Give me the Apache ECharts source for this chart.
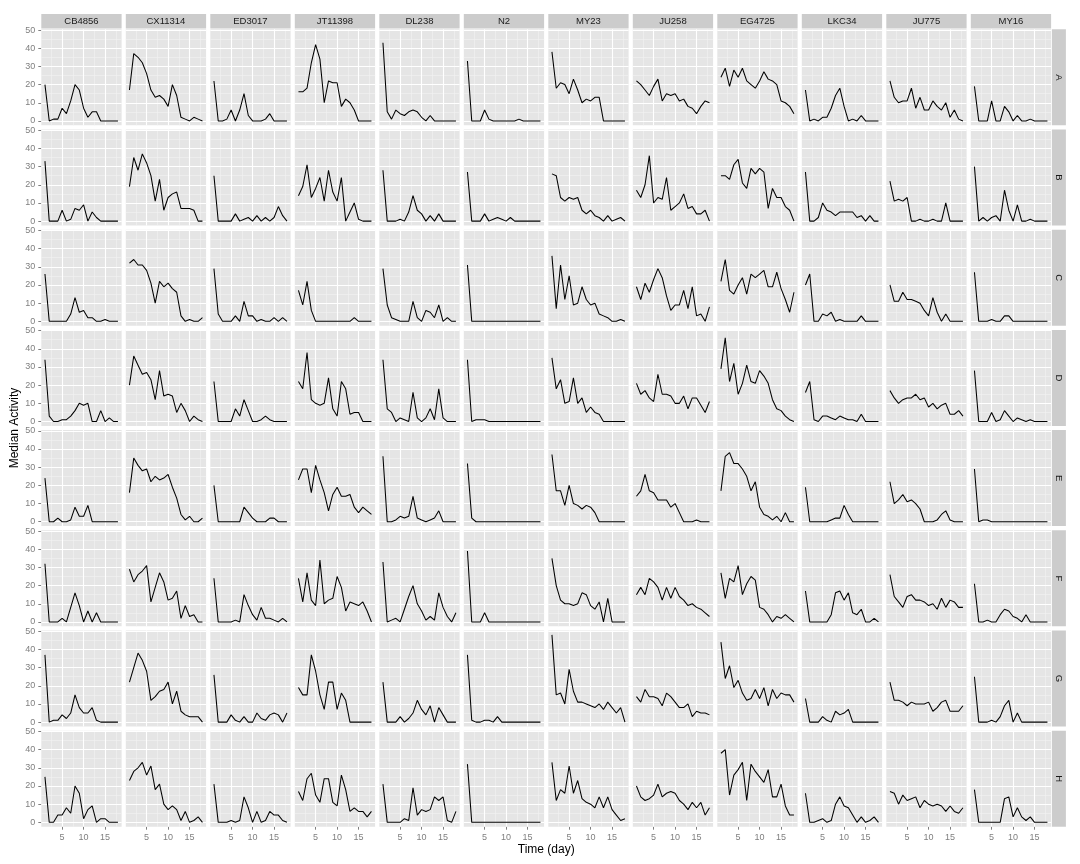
<!DOCTYPE html>
<html>
<head>
<meta charset="utf-8">
<title>Median Activity</title>
<script src="https://cdn.jsdelivr.net/npm/echarts@6.0.0/dist/echarts.min.js"></script>
<style>
  html, body { margin: 0; padding: 0; background: #fff; }
  #chart { width: 1080px; height: 864px; }
</style>
</head>
<body>
<div id="chart"></div>
<script>
// facets
const strains = ['CB4856', 'CX11314', 'ED3017', 'JT11398', 'DL238', 'N2', 'MY23', 'JU258', 'EG4725', 'LKC34', 'JU775', 'MY16']
const groups = ['A', 'B', 'C', 'D', 'E', 'F', 'G', 'H']
const days = [1, 2, 3, 4, 5, 6, 7, 8, 9, 10, 11, 12, 13, 14, 15, 16, 17, 18]

// breaks
const xBreaks = [5, 10, 15]
const xMinor = [2.5, 7.5, 12.5, 17.5]
const yBreaks = [0, 10, 20, 30, 40, 50]
const yMinor = [5, 15, 25, 35, 45]

// median activity per strain, one row per group A..H
const cb4856 = [
  [20, 0, 1, 1, 7, 4, 11, 20, 17, 7, 2, 5, 5, 0, 0, 0, 0, 0],
  [33, 0, 0, 0, 6, 0, 1, 7, 6, 9, 0, 5, 2, 0, 0, 0, 0, 0],
  [26, 0, 0, 0, 0, 0, 4, 13, 5, 6, 2, 2, 0, 0, 1, 0, 0, 0],
  [34, 3, 0, 0, 1, 1, 3, 6, 10, 9, 10, 0, 0, 6, 0, 2, 0, 0],
  [24, 0, 0, 2, 0, 0, 1, 8, 3, 3, 9, 0, 0, 0, 0, 0, 0, 0],
  [32, 0, 0, 0, 2, 0, 8, 16, 9, 0, 6, 0, 5, 0, 0, 0, 0, 0],
  [37, 0, 1, 1, 4, 2, 5, 15, 8, 5, 5, 8, 1, 0, 0, 0, 0, 0],
  [25, 0, 0, 4, 4, 8, 5, 20, 16, 2, 7, 9, 0, 2, 2, 0, 0, 0]
]
const cx11314 = [
  [17, 37, 35, 32, 26, 17, 13, 14, 12, 8, 20, 14, 2, 1, 0, 2, 1, 0],
  [19, 35, 28, 37, 32, 25, 11, 23, 6, 13, 15, 16, 7, 7, 7, 6, 0, 0],
  [32, 34, 31, 31, 28, 21, 10, 22, 19, 21, 18, 16, 3, 0, 1, 0, 0, 2],
  [20, 36, 31, 26, 27, 23, 12, 28, 14, 15, 14, 5, 10, 6, 0, 3, 1, 0],
  [16, 35, 31, 28, 29, 22, 25, 23, 24, 26, 19, 13, 4, 1, 3, 0, 0, 2],
  [29, 22, 26, 28, 31, 11, 19, 27, 22, 12, 13, 17, 2, 9, 3, 4, 0, 0],
  [22, 30, 38, 34, 28, 12, 14, 17, 18, 22, 10, 17, 6, 4, 3, 3, 3, 0],
  [23, 28, 30, 33, 26, 31, 18, 21, 10, 7, 9, 7, 1, 6, 0, 1, 3, 0]
]
const ed3017 = [
  [22, 0, 0, 1, 6, 0, 6, 15, 3, 0, 0, 0, 1, 4, 0, 0, 0, 0],
  [25, 0, 0, 0, 0, 4, 0, 1, 2, 0, 3, 0, 2, 0, 2, 8, 3, 0],
  [29, 4, 0, 0, 0, 3, 0, 11, 3, 3, 0, 1, 0, 0, 2, 0, 2, 0],
  [22, 0, 0, 0, 0, 7, 3, 12, 6, 0, 0, 1, 3, 1, 0, 0, 0, 0],
  [20, 0, 0, 0, 0, 0, 0, 8, 5, 2, 0, 0, 0, 2, 2, 0, 0, 0],
  [24, 0, 0, 0, 0, 1, 0, 15, 9, 4, 1, 8, 2, 2, 1, 0, 2, 0],
  [26, 0, 0, 0, 4, 1, 0, 3, 0, 0, 5, 2, 1, 4, 5, 4, 0, 5],
  [21, 0, 0, 0, 1, 0, 1, 14, 8, 0, 6, 0, 1, 6, 4, 4, 1, 0]
]
const jt11398 = [
  [16, 16, 18, 32, 42, 34, 10, 22, 21, 21, 8, 12, 10, 6, 0, 0, 0, 0],
  [14, 19, 31, 13, 18, 24, 11, 28, 16, 11, 24, 0, 5, 10, 1, 0, 0, 0],
  [17, 9, 22, 6, 0, 0, 0, 0, 0, 0, 0, 0, 0, 2, 0, 0, 0, 0],
  [22, 18, 38, 12, 10, 9, 10, 24, 7, 3, 22, 18, 4, 5, 5, 0, 0, 0],
  [23, 29, 29, 16, 31, 23, 16, 6, 15, 19, 14, 14, 15, 8, 5, 8, 6, 4],
  [24, 11, 27, 12, 9, 34, 10, 12, 13, 25, 19, 6, 11, 10, 9, 11, 6, 0],
  [19, 15, 15, 37, 28, 15, 7, 22, 22, 7, 16, 12, 0, 0, 0, 0, 0, 0],
  [17, 12, 24, 27, 15, 11, 24, 24, 11, 9, 26, 18, 6, 8, 6, 6, 3, 6]
]
const dl238 = [
  [43, 5, 1, 6, 4, 3, 5, 6, 5, 2, 0, 3, 0, 0, 0, 0, 0, 0],
  [28, 0, 0, 0, 1, 0, 5, 14, 6, 4, 0, 3, 0, 4, 0, 0, 0, 0],
  [29, 9, 2, 1, 0, 0, 0, 11, 2, 0, 6, 5, 2, 9, 0, 2, 0, 0],
  [34, 7, 5, 0, 2, 1, 0, 16, 2, 0, 2, 7, 1, 18, 2, 0, 0, 0],
  [36, 0, 0, 1, 3, 2, 3, 14, 2, 1, 0, 1, 2, 6, 0, 0, 0, 0],
  [33, 0, 1, 2, 0, 7, 14, 20, 10, 6, 1, 3, 1, 16, 8, 3, 0, 5],
  [22, 0, 0, 0, 3, 0, 2, 5, 12, 7, 4, 9, 0, 8, 4, 0, 0, 0],
  [21, 0, 0, 0, 0, 2, 1, 19, 4, 7, 6, 7, 14, 12, 14, 1, 0, 6]
]
const n2 = [
  [33, 0, 0, 0, 6, 1, 0, 0, 0, 0, 0, 0, 1, 0, 0, 0, 0, 0],
  [27, 0, 0, 0, 4, 0, 1, 2, 1, 0, 2, 0, 0, 0, 0, 0, 0, 0],
  [31, 0, 0, 0, 0, 0, 0, 0, 0, 0, 0, 0, 0, 0, 0, 0, 0, 0],
  [34, 0, 1, 1, 1, 0, 0, 0, 0, 0, 0, 0, 0, 0, 0, 0, 0, 0],
  [32, 2, 0, 0, 0, 0, 0, 0, 0, 0, 0, 0, 0, 0, 0, 0, 0, 0],
  [39, 0, 0, 0, 5, 0, 0, 0, 0, 0, 0, 0, 0, 0, 0, 0, 0, 0],
  [37, 1, 0, 0, 1, 1, 0, 3, 0, 0, 0, 0, 0, 0, 0, 0, 0, 0],
  [32, 0, 0, 0, 0, 0, 0, 0, 0, 0, 0, 0, 0, 0, 0, 0, 0, 0]
]
const my23 = [
  [38, 18, 21, 20, 15, 23, 17, 10, 12, 11, 13, 13, 0, 0, 0, 0, 0, 0],
  [26, 25, 13, 11, 13, 12, 13, 6, 4, 6, 3, 2, 0, 3, 0, 1, 2, 0],
  [36, 7, 31, 12, 25, 9, 10, 19, 12, 9, 10, 4, 3, 2, 0, 0, 1, 0],
  [35, 18, 23, 10, 11, 24, 10, 13, 5, 8, 5, 4, 0, 0, 0, 0, 0, 0],
  [37, 17, 17, 9, 20, 10, 9, 7, 9, 8, 5, 0, 0, 0, 0, 0, 0, 0],
  [35, 20, 12, 10, 10, 9, 10, 16, 15, 9, 7, 11, 0, 13, 0, 0, 0, 0],
  [48, 15, 16, 10, 29, 17, 11, 11, 10, 9, 8, 10, 7, 11, 8, 5, 8, 0],
  [33, 12, 18, 16, 31, 16, 23, 13, 11, 10, 8, 14, 8, 14, 7, 4, 1, 2]
]
const ju258 = [
  [22, 20, 17, 14, 19, 23, 11, 15, 14, 15, 11, 12, 8, 7, 4, 8, 11, 10],
  [17, 13, 20, 36, 10, 13, 12, 24, 6, 8, 10, 15, 7, 8, 4, 4, 6, 0],
  [19, 12, 21, 16, 23, 29, 24, 14, 6, 9, 9, 17, 7, 19, 3, 4, 0, 8],
  [21, 15, 17, 13, 11, 26, 15, 15, 14, 10, 10, 14, 7, 13, 13, 9, 5, 11],
  [14, 17, 26, 17, 16, 12, 12, 12, 8, 10, 5, 0, 0, 0, 1, 0, 0, 0],
  [15, 19, 15, 24, 22, 19, 12, 19, 13, 19, 14, 12, 9, 10, 8, 7, 5, 3],
  [14, 11, 18, 14, 14, 13, 9, 16, 14, 11, 8, 8, 10, 3, 6, 5, 5, 4],
  [20, 14, 12, 13, 15, 21, 14, 16, 17, 16, 12, 10, 7, 11, 8, 11, 4, 8]
]
const eg4725 = [
  [24, 29, 19, 28, 24, 29, 22, 20, 18, 22, 27, 23, 22, 20, 11, 10, 8, 4],
  [25, 25, 23, 31, 34, 21, 18, 29, 26, 29, 27, 7, 18, 13, 13, 8, 6, 0],
  [22, 34, 17, 15, 20, 24, 15, 26, 24, 26, 28, 19, 19, 27, 18, 12, 5, 16],
  [29, 46, 22, 32, 15, 21, 31, 22, 21, 28, 25, 21, 12, 7, 6, 3, 1, 0],
  [17, 36, 38, 32, 32, 29, 25, 17, 22, 8, 4, 3, 1, 3, 0, 5, 0, 0],
  [27, 13, 24, 22, 31, 15, 21, 25, 23, 8, 7, 4, 0, 3, 2, 4, 2, 0],
  [44, 24, 31, 19, 23, 16, 12, 13, 18, 13, 19, 9, 18, 13, 16, 15, 15, 11],
  [38, 40, 15, 26, 29, 33, 12, 32, 28, 25, 22, 29, 14, 14, 21, 9, 4, 4]
]
const lkc34 = [
  [17, 0, 1, 0, 2, 2, 7, 14, 18, 8, 0, 1, 0, 3, 0, 0, 0, 0],
  [27, 0, 0, 2, 10, 6, 5, 3, 5, 5, 5, 5, 2, 3, 0, 3, 0, 0],
  [20, 26, 0, 0, 4, 3, 5, 0, 1, 0, 0, 0, 0, 3, 0, 0, 0, 0],
  [16, 22, 1, 0, 3, 3, 2, 1, 3, 2, 1, 1, 0, 4, 0, 0, 0, 0],
  [19, 0, 0, 0, 0, 0, 1, 2, 2, 9, 4, 0, 0, 0, 0, 0, 0, 0],
  [17, 0, 0, 0, 0, 0, 4, 16, 17, 12, 16, 5, 4, 7, 0, 0, 2, 0],
  [13, 0, 0, 0, 3, 1, 0, 6, 4, 5, 7, 0, 0, 0, 0, 0, 0, 0],
  [16, 0, 0, 1, 2, 0, 1, 10, 14, 9, 8, 4, 0, 3, 0, 1, 3, 0]
]
const ju775 = [
  [22, 13, 10, 11, 11, 18, 7, 13, 6, 6, 11, 8, 6, 10, 2, 6, 1, 0],
  [22, 11, 12, 11, 13, 0, 0, 1, 0, 0, 1, 0, 0, 10, 0, 0, 0, 0],
  [20, 11, 11, 16, 12, 12, 11, 10, 6, 3, 13, 5, 0, 4, 0, 0, 0, 0],
  [17, 13, 10, 12, 13, 13, 15, 12, 13, 8, 10, 7, 9, 10, 4, 4, 6, 3],
  [22, 10, 12, 15, 11, 12, 10, 7, 0, 0, 0, 1, 4, 6, 1, 0, 0, 0],
  [26, 14, 11, 8, 14, 15, 12, 12, 11, 9, 10, 7, 13, 8, 12, 11, 8, 8],
  [22, 12, 12, 11, 9, 11, 10, 10, 10, 11, 6, 8, 11, 12, 6, 6, 6, 9],
  [17, 16, 10, 15, 12, 13, 14, 8, 12, 10, 9, 10, 9, 6, 9, 6, 5, 8]
]
const my16 = [
  [19, 0, 0, 0, 11, 0, 0, 8, 5, 0, 3, 0, 0, 1, 0, 0, 0, 0],
  [30, 0, 2, 0, 2, 3, 0, 17, 6, 0, 9, 0, 0, 1, 0, 0, 0, 0],
  [27, 0, 0, 0, 1, 0, 0, 3, 3, 0, 0, 0, 0, 0, 0, 0, 0, 0],
  [28, 0, 0, 0, 5, 0, 1, 6, 3, 0, 2, 1, 0, 1, 0, 0, 0, 0],
  [29, 0, 1, 1, 0, 0, 0, 0, 0, 0, 0, 0, 0, 0, 0, 0, 0, 0],
  [21, 0, 0, 1, 0, 0, 4, 7, 6, 3, 2, 0, 4, 0, 0, 0, 0, 0],
  [25, 0, 0, 0, 1, 0, 3, 9, 12, 0, 5, 0, 0, 0, 0, 0, 0, 0],
  [18, 0, 0, 0, 0, 0, 0, 13, 14, 3, 8, 3, 1, 3, 0, 0, 0, 0]
]

// same order as strains
const activity = [cb4856, cx11314, ed3017, jt11398, dl238, n2, my23, ju258, eg4725, lkc34, ju775, my16]

// layout of the facet grid (px)
const panelLeft = 41.3
const panelTop = 29.3
const panelW = 80.3
const panelH = 96
const stepX = 84.5
const stepY = 100.2
const stripH = 14.4
const stripW = 14

// padded domains like ggplot's default expansion
const xMin = 0.15
const xMax = 18.85
const yMin = -2.4
const yMax = 50.4

const FONT = '"Liberation Sans", Arial, Helvetica, sans-serif'
const greyText = '#7F7F7F'

const minorStyle = { color: '#F2F2F2', width: 0.6, type: 'solid' }
const majorStyle = { color: '#FFFFFF', width: 1.1, type: 'solid' }
const gridLines = [
  ...yMinor.map(v => ({ yAxis: v, lineStyle: minorStyle })),
  ...xMinor.map(v => ({ xAxis: v, lineStyle: minorStyle })),
  ...yBreaks.map(v => ({ yAxis: v, lineStyle: majorStyle })),
  ...xBreaks.map(v => ({ xAxis: v, lineStyle: majorStyle }))
]

const grids = []
const xAxes = []
const yAxes = []
const series = []
const graphics = []

strains.forEach((strain, c) => {
  groups.forEach((group, r) => {
    const i = grids.length
    const isBottom = r === groups.length - 1
    const isLeft = c === 0
    grids.push({
      left: panelLeft + c * stepX,
      top: panelTop + r * stepY,
      width: panelW,
      height: panelH,
      show: true,
      backgroundColor: '#E5E5E5',
      borderWidth: 0,
      containLabel: false,
      outerBoundsMode: 'none'
    })
    xAxes.push({
      gridIndex: i,
      type: 'value',
      min: xMin,
      max: xMax,
      show: isBottom,
      axisLine: { show: false, onZero: false },
      splitLine: { show: false },
      axisTick: { show: isBottom, customValues: xBreaks, length: 3, lineStyle: { color: greyText, width: 1 } },
      axisLabel: { show: isBottom, customValues: xBreaks, margin: 6, color: greyText, fontSize: 9, fontFamily: FONT }
    })
    yAxes.push({
      gridIndex: i,
      type: 'value',
      min: yMin,
      max: yMax,
      show: isLeft,
      axisLine: { show: false, onZero: false },
      splitLine: { show: false },
      axisTick: { show: isLeft, customValues: yBreaks, length: 3, lineStyle: { color: greyText, width: 1 } },
      axisLabel: { show: isLeft, customValues: yBreaks, margin: 6, color: greyText, fontSize: 9, fontFamily: FONT }
    })
    series.push({
      name: strain + ' ' + group,
      type: 'line',
      xAxisIndex: i,
      yAxisIndex: i,
      z: 3,
      data: days.map((d, k) => [d, activity[c][r][k]]),
      symbol: 'none',
      showSymbol: false,
      silent: true,
      animation: false,
      lineStyle: { color: '#000000', width: 1.05 },
      markLine: {
        z: 1,
        silent: true,
        animation: false,
        symbol: ['none', 'none'],
        label: { show: false },
        emphasis: { disabled: true },
        lineStyle: { type: 'solid' },
        data: gridLines
      }
    })
  })
})

// strip labels on top
strains.forEach((strain, c) => {
  const x = panelLeft + c * stepX
  graphics.push({
    type: 'rect',
    silent: true,
    shape: { x: x, y: panelTop - stripH - 0.8, width: panelW, height: stripH },
    style: { fill: '#CCCCCC' }
  })
  graphics.push({
    type: 'text',
    silent: true,
    x: x + panelW / 2,
    y: panelTop - stripH / 2 - 0.8,
    style: {
      text: strain, fill: '#1A1A1A', fontSize: 9.5, fontFamily: FONT,
      align: 'center', verticalAlign: 'middle', textAlign: 'center', textVerticalAlign: 'middle'
    }
  })
})

// strip labels on the right
const stripX = panelLeft + (strains.length - 1) * stepX + panelW + 0.8
groups.forEach((group, r) => {
  const y = panelTop + r * stepY
  graphics.push({
    type: 'rect',
    silent: true,
    shape: { x: stripX, y: y, width: stripW, height: panelH },
    style: { fill: '#CCCCCC' }
  })
  graphics.push({
    type: 'text',
    silent: true,
    x: stripX + stripW / 2,
    y: y + panelH / 2,
    rotation: -Math.PI / 2,
    style: {
      text: group, fill: '#1A1A1A', fontSize: 9.5, fontFamily: FONT,
      align: 'center', verticalAlign: 'middle', textAlign: 'center', textVerticalAlign: 'middle'
    }
  })
})

// axis titles
const panelsRight = panelLeft + (strains.length - 1) * stepX + panelW
const panelsBottom = panelTop + (groups.length - 1) * stepY + panelH
graphics.push({
  type: 'text',
  silent: true,
  x: (panelLeft + panelsRight) / 2,
  y: 850,
  style: {
    text: 'Time (day)', fill: '#000000', fontSize: 12, fontFamily: FONT,
    align: 'center', verticalAlign: 'middle', textAlign: 'center', textVerticalAlign: 'middle'
  }
})
graphics.push({
  type: 'text',
  silent: true,
  x: 15,
  y: (panelTop + panelsBottom) / 2,
  rotation: Math.PI / 2,
  style: {
    text: 'Median Activity', fill: '#000000', fontSize: 12, fontFamily: FONT,
    align: 'center', verticalAlign: 'middle', textAlign: 'center', textVerticalAlign: 'middle'
  }
})

const chart = echarts.init(document.getElementById('chart'), null, { renderer: 'canvas' })
chart.setOption({
  animation: false,
  backgroundColor: '#FFFFFF',
  grid: grids,
  xAxis: xAxes,
  yAxis: yAxes,
  series: series,
  graphic: graphics
})
</script>
</body>
</html>
